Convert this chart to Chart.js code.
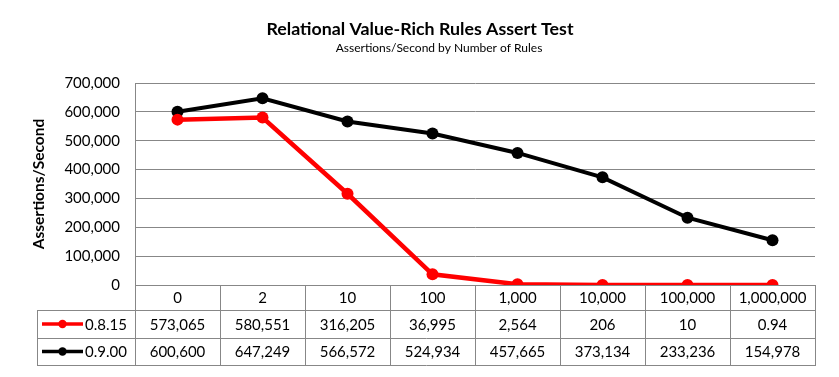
<!DOCTYPE html>
<html>
<head>
<meta charset="utf-8">
<script src="https://cdn.jsdelivr.net/npm/chart.js@4"></script>
<style>
html,body{margin:0;padding:0;background:#fff;}
canvas{display:block;}
</style>
</head>
<body>
<canvas id="c" width="839" height="377"></canvas>
<script>
const chartTitle = 'Relational Value-Rich Rules Assert Test';
const chartSubtitle = 'Assertions/Second by Number of Rules';
const yAxisTitle = 'Assertions/Second';
const categories = ['0', '2', '10', '100', '1,000', '10,000', '100,000', '1,000,000'];
const seriesNames = ['0.8.15', '0.9.00'];
const values0815 = [573065, 580551, 316205, 36995, 2564, 206, 10, 0.94];
const values0900 = [600600, 647249, 566572, 524934, 457665, 373134, 233236, 154978];
const seriesColors = ['#FF0000', '#000000'];
const yMin = 0, yMax = 700000, yStep = 100000;

const FONT = 'Lato, "Open Sans", sans-serif';
const GRID = '#878787';

function fmt(v) {
  return v.toLocaleString('en-US', {maximumFractionDigits: 2});
}

const seriesValues = [values0815, values0900];

const decorPlugin = {
  id: 'decor',
  afterDraw(chart) {
    const ctx = chart.ctx;
    const ca = chart.chartArea;
    const xs = chart.scales.x;
    const n = categories.length;
    const cw = (ca.right - ca.left) / n;
    const top = ca.bottom;
    const r0 = top + 25, r1 = top + 53, r2 = top + 80;
    const legLeft = 37;

    ctx.save();
    // Titles
    ctx.fillStyle = '#000';
    ctx.textAlign = 'center';
    ctx.textBaseline = 'middle';
    ctx.font = 'bold 17.8px ' + FONT;
    ctx.fillText(chartTitle, 420, 29);
    ctx.font = '12px ' + FONT;
    ctx.fillText(chartSubtitle, 439, 48);

    // Y axis title
    ctx.save();
    ctx.translate(39, 184);
    ctx.rotate(-Math.PI / 2);
    ctx.font = 'bold 15.5px ' + FONT;
    ctx.fillText(yAxisTitle, 0, 0);
    ctx.restore();

    // Table grid
    ctx.strokeStyle = GRID;
    ctx.lineWidth = 1;
    ctx.beginPath();
    [r0, r1, r2].forEach(y => {
      ctx.moveTo(legLeft, y + 0.5);
      ctx.lineTo(ca.right + 1, y + 0.5);
    });
    for (let i = 0; i <= n; i++) {
      const x = Math.round(ca.left + i * cw) + 0.5;
      ctx.moveTo(x, top);
      ctx.lineTo(x, r2 + 1);
    }
    ctx.moveTo(legLeft + 0.5, r0);
    ctx.lineTo(legLeft + 0.5, r2 + 1);
    ctx.stroke();

    // Header labels
    ctx.font = '15px ' + FONT;
    ctx.fillStyle = '#000';
    ctx.textAlign = 'center';
    ctx.textBaseline = 'middle';
    categories.forEach((c, i) => {
      ctx.fillText(c, xs.getPixelForValue(i), (top + r0) / 2 + 1);
    });

    // Rows
    const rowCenters = [(r0 + r1) / 2 + 1, (r1 + r2) / 2 + 1];
    seriesValues.forEach((vals, si) => {
      const yc = rowCenters[si];
      vals.forEach((v, i) => {
        ctx.textAlign = 'center';
        ctx.fillText(fmt(v), xs.getPixelForValue(i), yc);
      });
      // legend key
      ctx.strokeStyle = seriesColors[si];
      ctx.lineWidth = 3.5;
      ctx.beginPath();
      ctx.moveTo(42, yc - 1);
      ctx.lineTo(83, yc - 1);
      ctx.stroke();
      ctx.fillStyle = seriesColors[si];
      ctx.beginPath();
      ctx.arc(62.5, yc - 1, 4.2, 0, Math.PI * 2);
      ctx.fill();
      ctx.fillStyle = '#000';
      ctx.textAlign = 'left';
      ctx.fillText(seriesNames[si], 85, yc);
    });
    ctx.restore();
  }
};

new Chart(document.getElementById('c'), {
  type: 'line',
  data: {
    labels: categories,
    datasets: seriesNames.map((name, si) => ({
      label: name,
      data: seriesValues[si],
      borderColor: seriesColors[si],
      backgroundColor: seriesColors[si],
      pointBackgroundColor: seriesColors[si],
      pointBorderColor: seriesColors[si],
      borderWidth: si === 0 ? 4.5 : 4,
      pointRadius: 6,
      pointBorderWidth: 0,
      tension: 0,
      fill: false
    }))
  },
  options: {
    responsive: false,
    animation: false,
    devicePixelRatio: 1,
    layout: {padding: {top: 83, right: 24, left: 0, bottom: 0}},
    plugins: {
      legend: {display: false},
      title: {display: false},
      tooltip: {enabled: false}
    },
    scales: {
      x: {
        type: 'category',
        offset: true,
        ticks: {display: false},
        grid: {display: false},
        border: {display: true, color: GRID, width: 1},
        afterFit(s) { s.height = 92; }
      },
      y: {
        min: yMin,
        max: yMax,
        ticks: {
          stepSize: yStep,
          padding: 15,
          color: '#000',
          font: {family: FONT, size: 15},
          callback: v => fmt(v)
        },
        grid: {color: GRID, drawTicks: false, lineWidth: 1},
        border: {display: true, color: GRID, width: 1},
        afterFit(s) { s.width = 135; }
      }
    }
  },
  plugins: [decorPlugin]
});
</script>
</body>
</html>
